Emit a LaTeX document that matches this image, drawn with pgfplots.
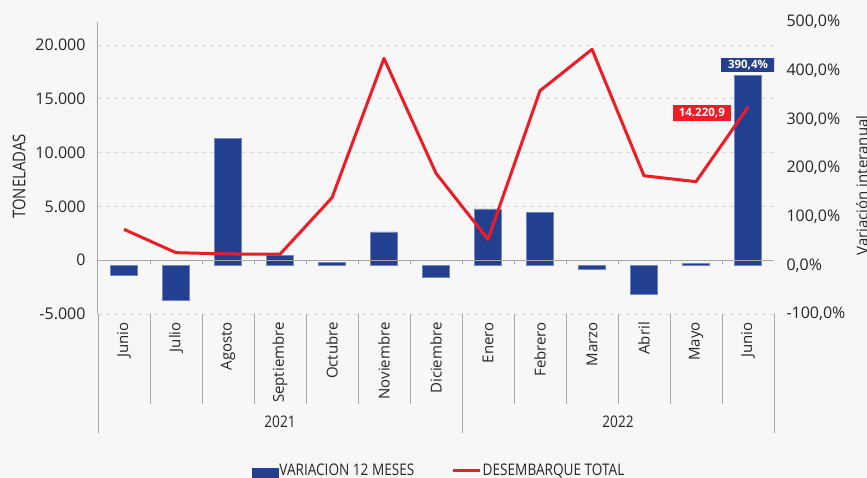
\documentclass[border=0pt]{standalone}
\usepackage{pgfplots}
\usepackage{pgfplotstable}
\pgfplotsset{compat=1.18}
\usepackage{fontspec}
\setmainfont{Open Sans}
\newfontfamily\condfont{Open Sans}[FakeStretch=0.85]
\definecolor{barblue}{HTML}{233F8F}
\definecolor{baredge}{HTML}{7486C2}
\definecolor{linered}{HTML}{EE1C25}
\definecolor{bg}{HTML}{F7F7F7}
\definecolor{axgray}{HTML}{A6A6A6}
\definecolor{gridgray}{HTML}{D9D9D9}
\definecolor{txt}{HTML}{262626}

\pgfplotstableread{
x pct
0 -20.5
1 -71.2
2 261.0
3 19.5
4 6.2
5 68.5
6 -25.4
7 115.8
8 108.2
9 -7.5
10 -60.0
11 3.5
12 390.4
}\pcttable
\pgfplotstableread{
x ton
0 2870
1 700
2 580
3 560
4 5810
5 18760
6 8080
7 1940
8 15750
9 19600
10 7850
11 7300
12 14220.9
}\tontable

\pgfplotsset{
  common/.style={
    scale only axis, width=676pt, height=292pt,
    xmin=-0.5, xmax=12.5,
    ytick style={draw=none},
    scaled y ticks=false,
    tick label style={font=\fontsize{16}{18}\selectfont, text=txt},
    /pgf/number format/assume math mode=true,
  }
}

\begin{document}
\begin{tikzpicture}
\path[use as bounding box, fill=bg] (-98pt,-163pt) rectangle (769pt,314pt);
% grid / left scale / category axis
\begin{axis}[common,
  axis y line*=left, axis x line*=bottom,
  x axis line style={draw=none},
  y axis line style={axgray, line width=1pt},
  ymin=-5000, ymax=22140,
  ytick={-5000,0,5000,10000,15000,20000},
  yticklabels={-5.000,0,5.000,10.000,15.000,20.000},
  ymajorgrids, grid style={gridgray, line width=0.9pt, dash pattern=on 4pt off 4pt},
  yticklabel style={xshift=-9pt},
  xtick={0,...,12},
  xticklabels={Junio,Julio,Agosto,Septiembre,Octubre,Noviembre,Diciembre,Enero,Febrero,Marzo,Abril,Mayo,Junio},
  xticklabel style={rotate=90, anchor=east, inner xsep=8pt, font=\fontsize{15}{17}\selectfont},
  major tick length=0pt,
  minor xtick={0.5,1.5,...,11.5},
  minor tick length=90pt,
  tick align=outside,
  minor tick style={draw=axgray, line width=0.8pt},
  extra x ticks={-0.5,6.5,12.5},
  extra x tick labels={},
  extra x tick style={major tick length=119pt, tick style={draw=axgray, line width=0.8pt}, grid=none},
]
\addplot[draw=none, forget plot] coordinates {(0,0)};
\end{axis}
% bars, right scale
\begin{axis}[common,
  axis y line*=right, axis x line=none,
  ymin=-100, ymax=500,
  ytick={-100,0,100,200,300,400,500},
  yticklabels={{-100,0\%},{0,0\%},{100,0\%},{200,0\%},{300,0\%},{400,0\%},{500,0\%}},
  y axis line style={draw=none},
  yticklabel style={xshift=9pt},
]
\addplot[ybar, bar width=26.5pt, fill=barblue, draw=baredge, line width=0.7pt] table[x=x,y=pct]{\pcttable};
\node[fill=barblue, text=white, font=\bfseries\fontsize{11.5}{13}\selectfont, inner xsep=7pt, inner ysep=2pt, anchor=south, yshift=3pt] at (axis cs:12,390.4) {390,4\%};
\end{axis}
% line, left scale
\begin{axis}[common,
  axis x line=none, axis y line=none,
  ymin=-5000, ymax=22140,
  legend style={at={(0.504,-0.5)}, anchor=north, draw=none, fill=none,
    legend columns=2, font=\condfont\fontsize{16}{18}\selectfont, text=txt,
    /tikz/every even column/.append style={column sep=36pt},
    nodes={inner xsep=1.2pt}},
  legend cell align=left,
]
\draw[axgray, line width=1pt] ([xshift=-4pt]axis cs:-0.5,0) -- (axis cs:12.5,0);
\pgfplotsinvokeforeach{0.5,1.5,...,12.5}{\draw[axgray, line width=0.8pt] (axis cs:#1,0) -- ([yshift=-4pt]axis cs:#1,0);}
\addlegendimage{legend image code/.code={\fill[barblue] (0pt,-8pt) rectangle (26pt,3pt);}}
\addlegendentry{VARIACION 12 MESES}
\addplot[linered, line width=3pt, mark=none, line join=round,
  legend image code/.code={\draw[linered, line width=3pt] (0pt,0pt) -- (27pt,0pt);}]
  table[x=x,y=ton]{\tontable};
\addlegendentry{DESEMBARQUE TOTAL}
\node[fill=linered, text=white, font=\bfseries\fontsize{11.5}{13}\selectfont, inner xsep=6pt, inner ysep=3pt, anchor=east, xshift=-17pt, yshift=-5.5pt] at (axis cs:12,14220.9) {14.220,9};
\end{axis}
\node[rotate=90, text=txt, font=\condfont\fontsize{17.5}{19}\selectfont] at (-79pt,137.5pt) {TONELADAS};
\node[rotate=90, text=txt, font=\fontsize{15}{17}\selectfont] at (764pt,128.5pt) {Variación interanual};
\node[text=txt, font=\condfont\fontsize{16}{18}\selectfont] at (182pt,-107.7pt) {2021};
\node[text=txt, font=\condfont\fontsize{16}{18}\selectfont] at (520pt,-107.7pt) {2022};
\end{tikzpicture}
\end{document}
